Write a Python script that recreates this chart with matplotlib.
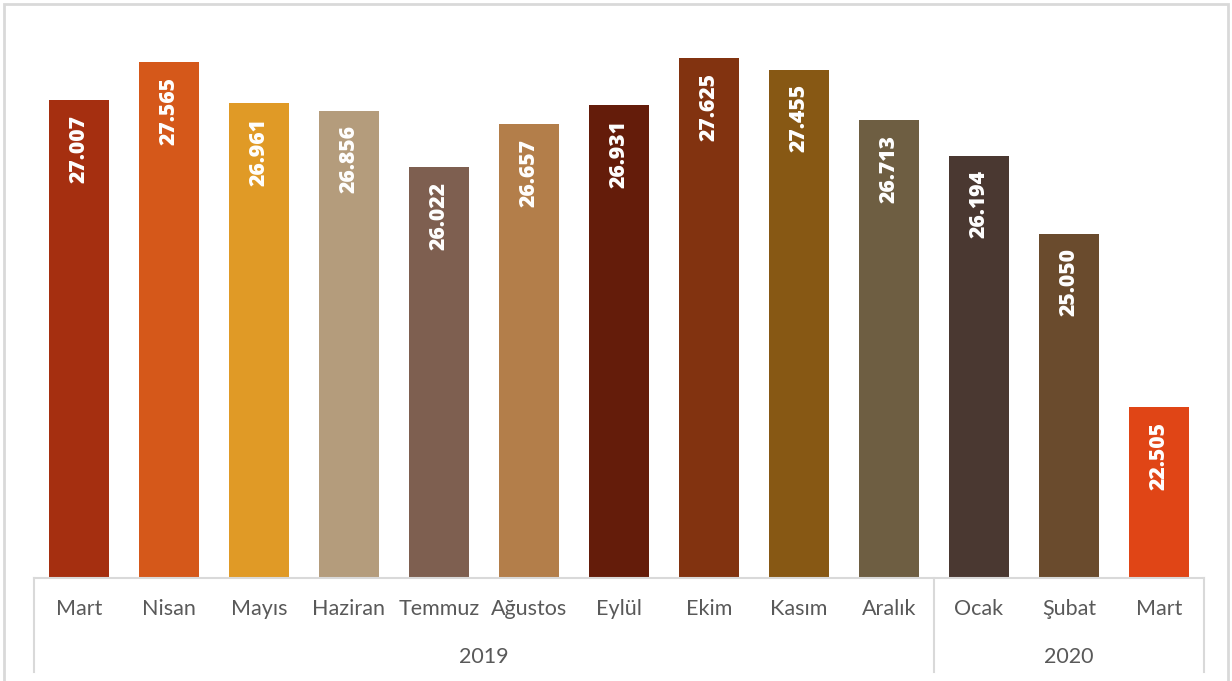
import matplotlib
matplotlib.use("Agg")
import matplotlib.pyplot as plt
from matplotlib.patches import Rectangle
from matplotlib.lines import Line2D

months = ["Mart", "Nisan", "Mayıs", "Haziran", "Temmuz", "Ağustos", "Eylül",
          "Ekim", "Kasım", "Aralık", "Ocak", "Şubat", "Mart"]
values = [27.007, 27.565, 26.961, 26.856, 26.022, 26.657, 26.931,
          27.625, 27.455, 26.713, 26.194, 25.050, 22.505]
labels = ["27.007", "27.565", "26.961", "26.856", "26.022", "26.657", "26.931",
          "27.625", "27.455", "26.713", "26.194", "25.050", "22.505"]
years = ["2019", "2020"]
year_counts = [10, 3]
colors = ["#A52F10", "#D5581A", "#E09A26", "#B49C7C", "#7E5F50", "#B37E4A", "#641C0A",
          "#823310", "#875814", "#6E5E42", "#4A3831", "#6A4B2D", "#E04516"]

W, H = 1232, 681
fig = plt.figure(figsize=(W / 100, H / 100), dpi=100)
fig.patch.set_facecolor("white")

left, right = 34, 1204
base_y, top_y = 578, 32.5
ax = fig.add_axes([left / W, 1 - base_y / H, (right - left) / W, (base_y - top_y) / H])
n = len(values)
x = list(range(n))
ax.bar(x, values, width=60 / 90, color=colors, bottom=0)
ax.set_xlim(-0.5, n - 0.5)
ax.set_ylim(20, 28)
for s in ax.spines.values():
    s.set_visible(False)
ax.set_xticks([])
ax.set_yticks([])
ax.patch.set_alpha(0)

font = ["Lato", "DejaVu Sans"]
for xi, v, lab in zip(x, values, labels):
    ax.annotate(lab, (xi, v), xytext=(0, -10.5), textcoords="offset points",
                rotation=90, ha="center", va="top", color="white",
                fontsize=15.2, fontweight="heavy", family=["Open Sans", "DejaVu Sans"])

grid_col = "#D9D9D9"
fig.add_artist(Line2D([left / W, right / W], [1 - base_y / H] * 2, color=grid_col, lw=1.5))
bottom_y = 672
sep = [0]
acc = 0
for c in year_counts:
    acc += c
    sep.append(acc)
for s_ in sep:
    xp = left + s_ * 90
    fig.add_artist(Line2D([xp / W] * 2, [1 - base_y / H, 1 - bottom_y / H], color=grid_col, lw=1.5))

for xi, m in zip(x, months):
    fig.text((left + 45 + xi * 90) / W, 1 - 609 / H, m, ha="center", va="center",
             fontsize=15.5, color="#595959", family=font)

start = 0
for yr, c in zip(years, year_counts):
    cx = left + (start + c / 2) * 90
    fig.text(cx / W, 1 - 657 / H, yr, ha="center", va="center",
             fontsize=15.5, color="#595959", family=font)
    start += c

fig.add_artist(Rectangle((4 / W, -0.01), (1228 - 4) / W, 1 - 4 / H + 0.01,
                         transform=fig.transFigure, fill=False, edgecolor=grid_col, lw=2))

fig.savefig("out.png", dpi=100)
